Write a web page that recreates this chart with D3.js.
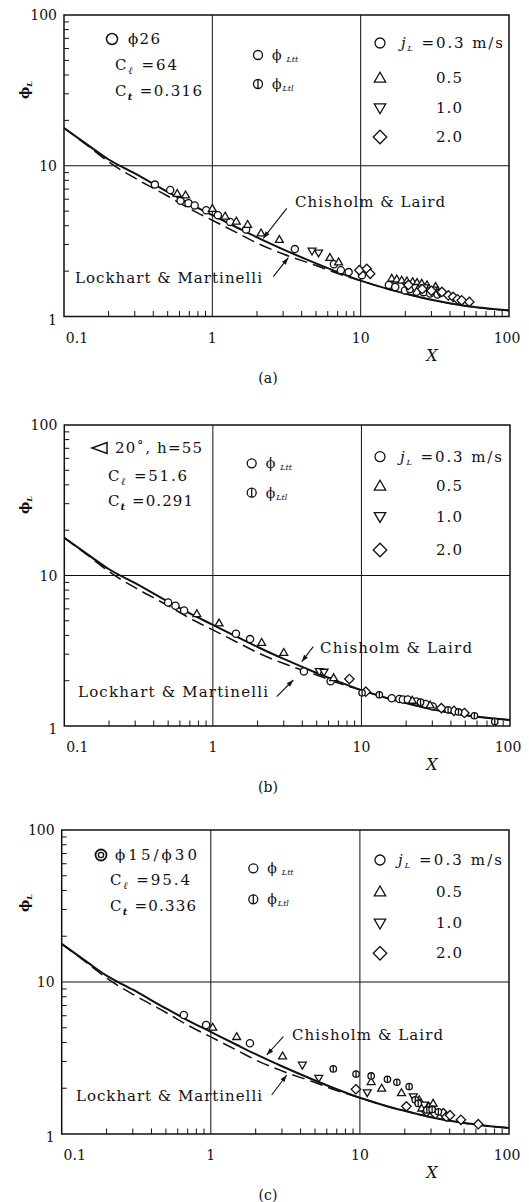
<!DOCTYPE html>
<html><head><meta charset="utf-8">
<script src="https://cdn.jsdelivr.net/npm/d3@7"></script>
<style>
body{margin:0;background:#fff;}
</style></head><body>
<svg id="fig" width="529" height="1202" font-family="'DejaVu Serif', 'Liberation Serif', serif"></svg>
<script>
// ---- reference curves, sampled at X ----
const curveX = [0.1,0.15,0.2,0.3,0.5,0.7,1,1.5,2,3,5,7,10,15,20,30,50,70,100];
const chisholmLaird = [17.8,13.4,11.0,8.9,6.7,5.6,4.7,3.85,3.35,2.79,2.25,1.97,1.73,1.53,1.42,1.29,1.18,1.134,1.095];
const lockhartMartinelli = [17.8,13.2,10.6,8.3,6.3,5.2,4.35,3.55,3.07,2.6,2.18,1.93,1.73,1.53,1.42,1.29,1.18,1.13,1.095];

// ---- axis ticks ----
const xTickValues = [0.1,1,10,100];
const xTickLabels = ["0.1","1","10","100"];
const yTickValues = [1,10,100];
const yTickLabels = ["1","10","100"];

// ---- measured points [X, phiL] ----
// (a) phi26
const a_j03 = [[0.41,7.5],[0.52,6.9],[0.61,5.85],[0.69,5.65],[0.76,5.45],[0.91,5.07],[1.09,4.7],[1.32,4.24],[1.69,3.78],[3.6,2.8],[6.6,2.22],[7.35,2.03],[8.3,1.97],[10.2,1.88],[15.5,1.62],[17.1,1.57],[19.9,1.49],[21.5,1.52],[23.8,1.46],[26.5,1.45],[29.4,1.42],[33,1.4]];
const a_j05 = [[0.58,6.55],[0.66,6.4],[1.0,5.2],[1.22,4.63],[1.45,4.29],[1.73,4.08],[2.13,3.58],[2.83,3.24],[6.2,2.46],[7.1,2.3],[16.2,1.79],[17.5,1.77],[18.9,1.74],[20.5,1.72],[22.4,1.7],[24,1.68],[25.8,1.66],[28,1.62],[32,1.58]];
const a_j10 = [[4.7,2.72],[5.2,2.64],[20.5,1.6],[23,1.56],[27,1.55],[31,1.5],[34,1.44]];
const a_j20 = [[9.8,2.03],[11,2.07],[11.6,1.92],[21,1.62],[26,1.52],[30,1.48],[35.3,1.455],[39,1.38],[42,1.35],[45,1.3],[48,1.28],[54,1.25]];
const a_ltt = [];
// (b) 20 deg, h=55
const b_j03 = [[0.5,6.62],[0.56,6.29],[0.64,5.85],[1.43,4.1],[1.78,3.78],[4.1,2.3],[6.2,1.98],[16,1.53],[18,1.51],[19,1.5],[20.5,1.5],[23.4,1.455],[27,1.4],[30.2,1.35]];
const b_j05 = [[0.78,5.57],[1.1,4.83],[2.13,3.59],[3.0,3.08],[6.5,2.09],[22,1.48],[29,1.38]];
const b_j10 = [[5.2,2.3],[5.6,2.28]];
const b_j20 = [[8.3,2.05],[10.7,1.69],[34.5,1.315],[42,1.26],[49.3,1.22]];
const b_ltt = [[10.1,1.66],[13.2,1.61],[25,1.44],[38.3,1.28],[45,1.24],[57.6,1.17],[79,1.07]];
// (c) phi15/phi30
const c_j03 = [[0.66,6.07],[0.93,5.21],[1.83,3.95]];
const c_j05 = [[1.03,5.04],[1.49,4.37],[3.03,3.26],[11.9,2.21],[14,2.0],[19,1.87],[25,1.68],[26,1.48],[29,1.52],[31,1.59]];
const c_j10 = [[4.11,2.84],[5.3,2.33],[11.2,1.87],[22.8,1.76],[24,1.62],[27,1.55]];
const c_j20 = [[9.4,1.97],[20.5,1.52],[28,1.4],[32,1.36],[36.3,1.37],[38,1.3],[40.2,1.33],[47.6,1.24],[62.2,1.16]];
const c_ltt = [[6.63,2.68],[9.42,2.48],[11.9,2.41],[15.3,2.29],[17.7,2.19],[21.4,2.05],[23.5,1.68],[24.6,1.59],[28.1,1.44],[30.5,1.45],[33.6,1.4]];

// ---- panel layout ----
const panels = [
  {tag:"(a)", x0:64, x1:509, y0:15, y1:316.5,
   sets:{j03:a_j03,j05:a_j05,j10:a_j10,j20:a_j20,ltt:a_ltt},
   head:{mark:"circle", mx:112, my:39, text:"ϕ26", tx:128, tw:32},
   cl:{x:115, y:65, val:"=64", w:62}, ct:{x:115, y:91, val:"=0.316", w:87},
   mid:{x:258, y1:55, y2:84},
   right:{x:380, ys:[43,78,108,137], jx:401, jw:102},
   clText:{x:295, y:207, w:150}, lmText:{x:75, y:283, w:187},
   clArrow:[286.7,208.3,263.3,238.3], lmArrow:[273.3,276.7,288.3,257.7],
   ylab:90},
  {tag:"(b)", x0:64.3, x1:510, y0:425, y1:726,
   sets:{j03:b_j03,j05:b_j05,j10:b_j10,j20:b_j20,ltt:b_ltt},
   head:{mark:"left", mx:100, my:448, text:"20˚, h=55", tx:115, tw:87},
   cl:{x:108, y:476, val:"=51.6", w:79}, ct:{x:108, y:500.7, val:"=0.291", w:85},
   mid:{x:251.7, y1:463.3, y2:492.7},
   right:{x:380, ys:[456.7,486,516.7,550], jx:400, jw:102},
   clText:{x:320, y:653.3, w:152}, lmText:{x:78, y:696.7, w:190},
   clArrow:[313.3,646.7,301.7,661.7], lmArrow:[276.7,696.7,293.3,680],
   ylab:505},
  {tag:"(c)", x0:61.7, x1:509, y0:830, y1:1134,
   sets:{j03:c_j03,j05:c_j05,j10:c_j10,j20:c_j20,ltt:c_ltt},
   head:{mark:"double", mx:101, my:855, text:"ϕ15/ϕ30", tx:115, tw:82},
   cl:{x:110, y:880, val:"=95.4", w:80}, ct:{x:110, y:906, val:"=0.336", w:86},
   mid:{x:253.3, y1:868.3, y2:899.3},
   right:{x:380, ys:[860,891.7,923.3,953.3], jx:398, jw:104},
   clText:{x:292, y:1040, w:151}, lmText:{x:76, y:1100.7, w:186},
   clArrow:[283.3,1036.7,266.7,1055], lmArrow:[271.7,1095,286.7,1075],
   ylab:903}
];

const svg = d3.select("#fig");
const ink = "#111";

function marker(g, type, x, y, s) {
  if (type === "j03") {
    g.append("circle").attr("cx",x).attr("cy",y).attr("r",s)
      .attr("fill","#fff").attr("stroke",ink).attr("stroke-width",1.3);
  } else if (type === "ltt") {
    g.append("circle").attr("cx",x).attr("cy",y).attr("r",s)
      .attr("fill","#fff").attr("stroke",ink).attr("stroke-width",1.3);
    g.append("line").attr("x1",x).attr("x2",x).attr("y1",y-s).attr("y2",y+s)
      .attr("stroke",ink).attr("stroke-width",1.3);
  } else if (type === "j05" || type === "j10") {
    const h = s*1.9, w = s*1.1;
    const d = type === "j05"
      ? `M${x},${y-h*0.58}L${x+w},${y+h*0.42}L${x-w},${y+h*0.42}Z`
      : `M${x},${y+h*0.58}L${x+w},${y-h*0.42}L${x-w},${y-h*0.42}Z`;
    g.append("path").attr("d",d).attr("fill","#fff").attr("stroke",ink).attr("stroke-width",1.3);
  } else if (type === "j20") {
    const r = s*1.3;
    g.append("path").attr("d",`M${x},${y-r}L${x+r},${y}L${x},${y+r}L${x-r},${y}Z`)
      .attr("fill","#fff").attr("stroke",ink).attr("stroke-width",1.3);
  }
}

function arrow(g, x1, y1, x2, y2) {
  g.append("line").attr("x1",x1).attr("y1",y1).attr("x2",x2).attr("y2",y2)
    .attr("stroke",ink).attr("stroke-width",1.1);
  const ang = Math.atan2(y2-y1, x2-x1), L = 7, W = 2.4;
  const bx = x2 - L*Math.cos(ang), by = y2 - L*Math.sin(ang);
  const px = -Math.sin(ang)*W, py = Math.cos(ang)*W;
  g.append("path").attr("d",`M${x2},${y2}L${bx+px},${by+py}L${bx-px},${by-py}Z`).attr("fill",ink);
}

function cLine(g, x, y, sub, val, w) {
  const t = g.append("text").attr("x",x).attr("y",y+5).attr("font-size",15).attr("fill",ink)
    .attr("textLength",w).attr("lengthAdjust","spacing");
  t.append("tspan").text("C");
  t.append("tspan").attr("dy",4).attr("font-size",10).attr("font-style","italic").attr("font-weight","bold").text(sub);
  t.append("tspan").attr("dy",-4).text(" " + val);
}

panels.forEach(p => {
  const g = svg.append("g");
  const x = d3.scaleLog().domain([0.1,100]).range([p.x0,p.x1]);
  const y = d3.scaleLog().domain([1,100]).range([p.y1,p.y0]);

  // grid lines at X = 1, 10 and phi = 10
  [1,10].forEach(v => g.append("line").attr("x1",x(v)).attr("x2",x(v)).attr("y1",p.y0).attr("y2",p.y1)
    .attr("stroke",ink).attr("stroke-width",1));
  g.append("line").attr("x1",p.x0).attr("x2",p.x1).attr("y1",y(10)).attr("y2",y(10))
    .attr("stroke",ink).attr("stroke-width",1.2);

  // frame
  g.append("rect").attr("x",p.x0).attr("y",p.y0).attr("width",p.x1-p.x0).attr("height",p.y1-p.y0)
    .attr("fill","none").attr("stroke",ink).attr("stroke-width",1.5);

  // minor ticks
  const minors = [];
  [0.1,1,10].forEach(d => { for (let k=2;k<=9;k++) minors.push(d*k); });
  minors.forEach(v => g.append("line").attr("x1",x(v)).attr("x2",x(v)).attr("y1",p.y1).attr("y2",p.y1-5.5)
    .attr("stroke",ink).attr("stroke-width",1));
  [1,10].forEach(d => { for (let k=2;k<=9;k++) {
    const v = d*k;
    g.append("line").attr("x1",p.x0).attr("x2",p.x0+5).attr("y1",y(v)).attr("y2",y(v))
      .attr("stroke",ink).attr("stroke-width",1);
  }});

  // tick labels
  yTickValues.forEach((v,i) => g.append("text").attr("x",p.x0-7).attr("y",y(v)+(v===1?8:5))
    .attr("text-anchor","end").attr("font-size",14).attr("fill",ink).text(yTickLabels[i]));
  xTickValues.forEach((v,i) => {
    let cx = x(v);
    if (i===0) cx += 13;
    if (i===3) cx -= 2;
    g.append("text").attr("x",cx).attr("y",p.y1+26).attr("text-anchor","middle")
      .attr("font-size",14).attr("fill",ink).text(xTickLabels[i]);
  });

  // axis titles
  g.append("text").attr("x",432).attr("y",p.y1+44).attr("text-anchor","middle")
    .attr("font-size",16).attr("font-style","italic").attr("fill",ink).text("X");
  g.append("text").attr("x",268).attr("y",p.y1+66).attr("text-anchor","middle")
    .attr("font-size",14).attr("fill",ink).text(p.tag);
  const yl = g.append("text").attr("transform",`translate(29,${p.ylab}) rotate(-90)`)
    .attr("text-anchor","middle").attr("font-size",13).attr("font-weight","bold").attr("fill",ink);
  yl.append("tspan").text("ϕ");
  yl.append("tspan").attr("dy",3).attr("font-size",8).attr("font-style","italic").text("L");

  // curves
  const line = d3.line().x(d => x(d[0])).y(d => y(d[1])).curve(d3.curveMonotoneX);
  g.append("path").attr("d",line(curveX.map((v,i)=>[v,lockhartMartinelli[i]])))
    .attr("fill","none").attr("stroke",ink).attr("stroke-width",1.5).attr("stroke-dasharray","13,6");
  g.append("path").attr("d",line(curveX.map((v,i)=>[v,chisholmLaird[i]])))
    .attr("fill","none").attr("stroke",ink).attr("stroke-width",2);

  // data
  ["j03","j05","j10","j20","ltt"].forEach(k => {
    p.sets[k].forEach(d => marker(g, k, x(d[0]), y(d[1]), k==="ltt"?3.2:3.6));
  });

  // curve labels
  g.append("text").attr("x",p.clText.x).attr("y",p.clText.y).attr("font-size",15).attr("fill",ink)
    .attr("textLength",p.clText.w).attr("lengthAdjust","spacing").text("Chisholm & Laird");
  g.append("text").attr("x",p.lmText.x).attr("y",p.lmText.y).attr("font-size",15).attr("fill",ink)
    .attr("textLength",p.lmText.w).attr("lengthAdjust","spacing").text("Lockhart & Martinelli");
  arrow(g, ...p.clArrow);
  arrow(g, ...p.lmArrow);

  // left legend block
  const h = p.head;
  if (h.mark === "circle") {
    g.append("circle").attr("cx",h.mx).attr("cy",h.my).attr("r",5.5).attr("fill","#fff").attr("stroke",ink).attr("stroke-width",1.5);
  } else if (h.mark === "left") {
    g.append("path").attr("d",`M${h.mx-8},${h.my}L${h.mx+7},${h.my-5.5}L${h.mx+7},${h.my+5.5}Z`)
      .attr("fill","#fff").attr("stroke",ink).attr("stroke-width",1.5);
  } else {
    g.append("circle").attr("cx",h.mx).attr("cy",h.my).attr("r",5.5).attr("fill","#fff").attr("stroke",ink).attr("stroke-width",1.8);
    g.append("circle").attr("cx",h.mx).attr("cy",h.my).attr("r",2.6).attr("fill","#fff").attr("stroke",ink).attr("stroke-width",1.4);
  }
  g.append("text").attr("x",h.tx).attr("y",h.my+5).attr("font-size",15).attr("fill",ink)
    .attr("textLength",h.tw).attr("lengthAdjust","spacing").text(h.text);
  cLine(g, p.cl.x, p.cl.y, "ℓ", p.cl.val, p.cl.w);
  cLine(g, p.ct.x, p.ct.y, "t", p.ct.val, p.ct.w);

  // middle legend
  marker(g, "j03", p.mid.x, p.mid.y1, 4.5);
  marker(g, "ltt", p.mid.x, p.mid.y2, 4.5);
  [[p.mid.y1,"Ltt"],[p.mid.y2,"Ltl"]].forEach(([yy,sub],i) => {
    const t = g.append("text").attr("x",p.mid.x+14).attr("y",yy+5).attr("font-size",14).attr("fill",ink);
    t.append("tspan").text("ϕ");
    t.append("tspan").attr("dx", i===0?5:1).attr("dy",2).attr("font-size",8).attr("font-style","italic").text(sub);
  });

  // right legend
  const r = p.right;
  ["j03","j05","j10","j20"].forEach((k,i) => marker(g, k, r.x, r.ys[i], k==="j03"?5:5.2));
  const jt = g.append("text").attr("x",r.jx).attr("y",r.ys[0]+5).attr("font-size",15).attr("fill",ink)
    .attr("textLength",r.jw).attr("lengthAdjust","spacing");
  jt.append("tspan").attr("font-style","italic").text("j");
  jt.append("tspan").attr("dy",3).attr("font-size",8).attr("font-style","italic").text("L");
  jt.append("tspan").attr("dy",-3).text(" =0.3 m/s");
  ["0.5","1.0","2.0"].forEach((s,i) => g.append("text").attr("x",436).attr("y",r.ys[i+1]+5)
    .attr("font-size",15).attr("fill",ink).attr("textLength",26).attr("lengthAdjust","spacing").text(s));
});
</script>
</body></html>
